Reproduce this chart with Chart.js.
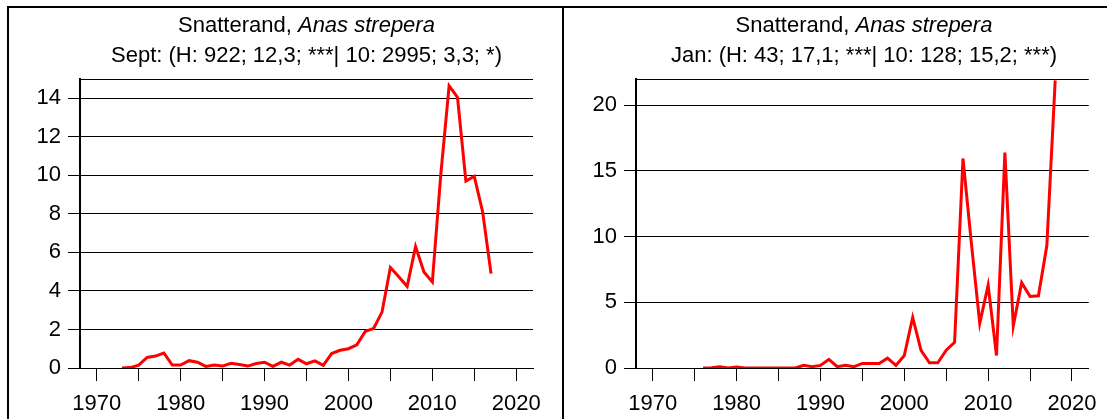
<!DOCTYPE html>
<html>
<head>
<meta charset="utf-8">
<script src="https://cdn.jsdelivr.net/npm/chart.js@4.4.1/dist/chart.umd.min.js"></script>
<style>
  html, body { margin: 0; padding: 0; background: #fff; }
  #wrap { position: relative; width: 1107px; height: 419px; overflow: hidden;
          font-family: "Liberation Sans", Arial, sans-serif; }
  #wrap canvas { position: absolute; top: 0; }
  .rule { position: absolute; background: #000; }
  .title { position: absolute; text-align: center; font-size: 22px; line-height: 30px;
           color: #000; white-space: nowrap; }
</style>
</head>
<body>
<div id="wrap">
  <canvas id="sept" width="563" height="419" style="left:0px"></canvas>
  <canvas id="jan" width="544" height="419" style="left:563px"></canvas>

  <div class="title" style="left:80px; width:453px; top:10px;">Snatterand, <i>Anas strepera</i><br>Sept: (H: 922; 12,3; ***| 10: 2995; 3,3; *)</div>
  <div class="title" style="left:636px; width:456px; top:10px;">Snatterand, <i>Anas strepera</i><br>Jan: (H: 43; 17,1; ***| 10: 128; 15,2; ***)</div>

  <!-- panel frame -->
  <div class="rule" style="left:7px; top:6px; width:1100px; height:2px;"></div>
  <div class="rule" style="left:7px; top:6px; width:2px; height:413px;"></div>
  <div class="rule" style="left:562px; top:6px; width:2px; height:413px;"></div>
</div>

<script>
// Index series (September counts), 1973-2017
const yearsSept = [1973,1974,1975,1976,1977,1978,1979,1980,1981,1982,1983,1984,1985,1986,1987,1988,1989,1990,
  1991,1992,1993,1994,1995,1996,1997,1998,1999,2000,2001,2002,2003,2004,2005,2006,2007,2008,2009,2010,
  2011,2012,2013,2014,2015,2016,2017];
const valuesSept = [0,0.02,0.15,0.55,0.62,0.78,0.15,0.15,0.38,0.3,0.08,0.15,0.1,0.24,0.18,0.1,0.23,0.3,
  0.08,0.3,0.15,0.45,0.22,0.37,0.14,0.75,0.92,1.0,1.2,1.9,2.05,2.9,5.22,4.73,4.23,6.3,4.98,4.46,
  10.0,14.65,14.05,9.7,9.95,8.1,4.9];

// Index series (January counts), 1976-2018
const yearsJan = [1976,1977,1978,1979,1980,1981,1982,1983,1984,1985,1986,1987,1988,1989,1990,1991,1992,1993,
  1994,1995,1996,1997,1998,1999,2000,2001,2002,2003,2004,2005,2006,2007,2008,2009,2010,2011,2012,2013,
  2014,2015,2016,2017,2018];
const valuesJan = [0,0.02,0.1,0,0.08,0,0,0,0,0,0,0,0.2,0.1,0.2,0.65,0.1,0.2,
  0.1,0.35,0.35,0.35,0.75,0.2,0.95,3.85,1.35,0.4,0.4,1.35,1.95,15.95,9.5,3.4,6.3,0.95,16.4,3.2,
  6.5,5.45,5.5,9.3,21.9];

// Year axis: tick every 5 years, labelled every 10
const yearRange = [1968, 2022];
const yearLabels = [1970, 1980, 1990, 2000, 2010, 2020];

// Value axes
const sept_yRange = [0, 15];
const sept_yStep = 2;
const jan_yRange = [0, 22];
const jan_yStep = 5;

const FONT = { family: '"Liberation Sans", Arial, sans-serif', size: 22 };

// thin line along the top of the plot area
const topBorder = {
  id: 'topBorder',
  afterDraw(chart) {
    const { ctx, chartArea: a } = chart;
    ctx.save();
    ctx.strokeStyle = '#000';
    ctx.lineWidth = 1;
    ctx.beginPath();
    ctx.moveTo(a.left, Math.round(a.top) + 0.5);
    ctx.lineTo(a.right, Math.round(a.top) + 0.5);
    ctx.stroke();
    ctx.restore();
  }
};

function makeChart(id, years, values, yRange, yStep, axisWidth, padRight) {
  const points = years.map((x, i) => ({ x: x, y: values[i] }));
  return new Chart(document.getElementById(id), {
    type: 'line',
    data: {
      datasets: [{
        data: points,
        borderColor: '#ff0000',
        borderWidth: 3,
        pointRadius: 0,
        tension: 0,
        fill: false
      }]
    },
    options: {
      responsive: false,
      animation: false,
      devicePixelRatio: 1,
      layout: { padding: { top: 79, right: padRight, left: 0, bottom: 0 } },
      plugins: { legend: { display: false }, tooltip: { enabled: false }, title: { display: false } },
      scales: {
        x: {
          type: 'linear',
          min: yearRange[0],
          max: yearRange[1],
          afterFit(scale) { scale.height = 51; },
          grid: { drawOnChartArea: false, drawTicks: true, tickLength: 13, color: '#000', lineWidth: 1 },
          border: { display: true, color: '#000', width: 1 },
          ticks: {
            stepSize: 5,
            includeBounds: false,
            autoSkip: false,
            maxRotation: 0,
            padding: 10,
            color: '#000',
            font: FONT,
            callback: (v) => yearLabels.includes(v) ? String(v) : ''
          }
        },
        y: {
          min: yRange[0],
          max: yRange[1],
          afterFit(scale) { scale.width = axisWidth; },
          grid: { drawTicks: true, tickLength: 12, color: '#000', lineWidth: 1 },
          border: { display: true, color: '#000', width: 2 },
          ticks: {
            stepSize: yStep,
            includeBounds: false,
            padding: 7,
            color: '#000',
            font: FONT
          }
        }
      }
    },
    plugins: [topBorder]
  });
}

makeChart('sept', yearsSept, valuesSept, sept_yRange, sept_yStep, 80, 30);
makeChart('jan', yearsJan, valuesJan, jan_yRange, jan_yStep, 73, 15);
</script>
</body>
</html>
